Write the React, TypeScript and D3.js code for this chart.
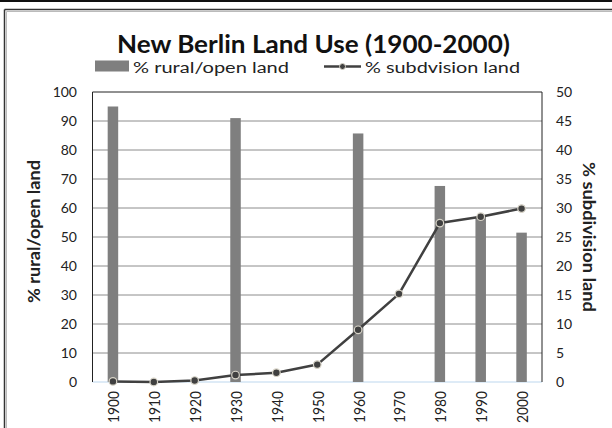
import React from 'react';
import * as d3 from 'd3';

const years = ['1900', '1910', '1920', '1930', '1940', '1950', '1960', '1970', '1980', '1990', '2000'];
const ruralPct: (number | null)[] = [95, null, null, 91, null, null, 85.7, null, 67.6, 57, 51.5];
const subdivisionPct = [0.1, 0, 0.25, 1.2, 1.6, 3.0, 9.0, 15.2, 27.4, 28.5, 29.9];
const leftTicks = [0, 10, 20, 30, 40, 50, 60, 70, 80, 90, 100];
const rightTicks = [0, 5, 10, 15, 20, 25, 30, 35, 40, 45, 50];

const FONT = 'Lato, "Open Sans", sans-serif';

const App: React.FC = () => {
  const width = 612;
  const height = 428;
  const plot = { left: 92.5, right: 542, top: 92, bottom: 382 };

  const x = d3.scaleBand<string>().domain(years).range([plot.left, plot.right]);
  const yL = d3.scaleLinear().domain([0, 100]).range([plot.bottom, plot.top]);
  const yR = d3.scaleLinear().domain([0, 50]).range([plot.bottom, plot.top]);
  const cx = (yr: string) => (x(yr) ?? 0) + x.bandwidth() / 2;
  const barW = 10.5;

  const line = d3.line<number>()
    .x((_, i) => cx(years[i]))
    .y(d => yR(d));

  return (
    <svg width={width} height={height} style={{ position: 'absolute', left: 0, top: 0, background: '#fff' }}>
      {/* frame */}
      <rect x={0} y={0} width={width} height={2} fill="#111" />
      <line x1={4.5} y1={9.5} x2={width} y2={9.5} stroke="#333" strokeWidth={1.5} />
      <line x1={4.5} y1={9.5} x2={4.5} y2={height} stroke="#333" strokeWidth={1.5} />
      <line x1={6.5} y1={11.5} x2={width} y2={11.5} stroke="#bbb" strokeWidth={1} />
      <line x1={6.5} y1={11.5} x2={6.5} y2={height} stroke="#bbb" strokeWidth={1} />

      <text x={117} y={53} textLength={393} lengthAdjust="spacingAndGlyphs" fontFamily={FONT} fontWeight="bold" fontSize={25} fill="#111">
        New Berlin Land Use (1900-2000)
      </text>

      {/* legend */}
      <rect x={95} y={60.5} width={34} height={11} fill="#7f7f7f" />
      <text x={133} y={72.5} textLength={156} lengthAdjust="spacingAndGlyphs" fontFamily={FONT} fontSize={15.5} fill="#222">% rural/open land</text>
      <line x1={324} x2={361} y1={66.5} y2={66.5} stroke="#404040" strokeWidth={2.5} />
      <circle cx={342.5} cy={66.5} r={3} fill="#404040" stroke="#d8d4c8" strokeWidth={1} />
      <text x={365} y={72.5} textLength={155} lengthAdjust="spacingAndGlyphs" fontFamily={FONT} fontSize={15.5} fill="#222">% subdvision land</text>

      {/* grid */}
      {leftTicks.map(t => (
        <line key={t} x1={plot.left} x2={plot.right} y1={yL(t)} y2={yL(t)}
          stroke={t === 0 ? '#bdd7ee' : t === 100 ? '#222' : '#8c8c8c'} strokeWidth={1} />
      ))}
      <line x1={plot.left} x2={plot.left} y1={plot.top} y2={plot.bottom} stroke="#222" />
      <line x1={plot.right} x2={plot.right} y1={plot.top} y2={plot.bottom} stroke="#222" />

      {/* bars */}
      {years.map((yr, i) => {
        const v = ruralPct[i];
        if (v == null) return null;
        return <rect key={yr} x={cx(yr) - barW / 2} y={yL(v)} width={barW} height={yL(0) - yL(v)} fill="#7f7f7f" />;
      })}

      {/* line */}
      <path d={line(subdivisionPct) ?? ''} fill="none" stroke="#404040" strokeWidth={2.5} strokeLinejoin="round" />
      {subdivisionPct.map((v, i) => (
        <circle key={i} cx={cx(years[i])} cy={yR(v)} r={3.8} fill="#404040" stroke="#d8d4c8" strokeWidth={1.2} />
      ))}

      {/* left axis */}
      {leftTicks.map(t => (
        <text key={t} x={77} y={yL(t) + 5} textAnchor="end" fontFamily={FONT} fontSize={14} fill="#222">{t}</text>
      ))}
      {/* right axis */}
      {rightTicks.map(t => (
        <text key={t} x={556} y={yR(t) + 5} textAnchor="start" fontFamily={FONT} fontSize={14} fill="#222">{t}</text>
      ))}

      {/* x labels */}
      {years.map(yr => (
        <text key={yr} transform={`translate(${cx(yr) + 6.5},${391}) rotate(-90)`} textAnchor="end"
          textLength={32} lengthAdjust="spacingAndGlyphs"
          fontFamily={FONT} fontSize={16} fill="#222">{yr}</text>
      ))}

      <text transform={`translate(39.5,231.5) rotate(-90)`} textAnchor="middle" textLength={143} lengthAdjust="spacingAndGlyphs"
        fontFamily={FONT} fontWeight="bold" fontSize={17} fill="#222">
        % rural/open land
      </text>
      <text transform={`translate(583,237) rotate(90)`} textAnchor="middle" textLength={150} lengthAdjust="spacingAndGlyphs"
        fontFamily={FONT} fontWeight="bold" fontSize={17} fill="#222">
        % subdivision land
      </text>
    </svg>
  );
};

export default App;
